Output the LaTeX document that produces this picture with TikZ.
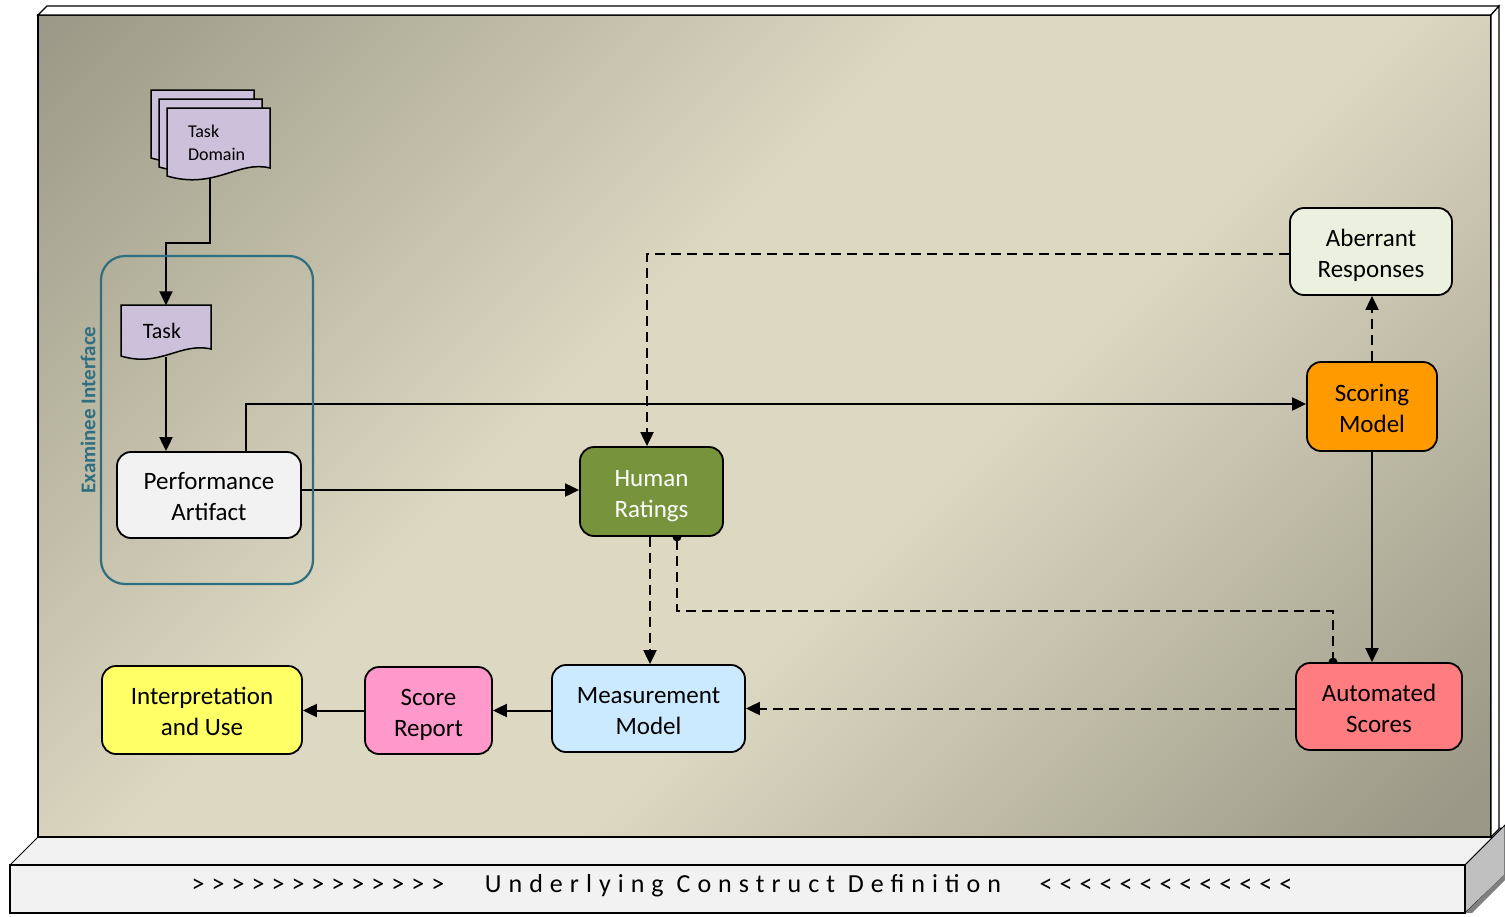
\documentclass[tikz,border=0pt]{standalone}
\usepackage{fontspec}
\setmainfont{Carlito}
\newfontfamily\spacedfont[LetterSpace=27]{Carlito}
\usetikzlibrary{arrows.meta,calc}
\newcommand\topstrut{\rule{0pt}{26pt}}
\newcommand\botstrut{\rule[-6pt]{0pt}{6pt}}
\definecolor{pgray}{HTML}{999785}
\definecolor{pbeige}{HTML}{DDD8C2}
\definecolor{plinthtop}{HTML}{F2F2F2}
\definecolor{plinthside}{HTML}{C0C0C0}
\definecolor{lav}{HTML}{CCC0DA}
\definecolor{teal}{HTML}{2F6F7F}
\definecolor{pafill}{HTML}{F2F2F2}
\definecolor{hrgreen}{HTML}{77933C}
\definecolor{abfill}{HTML}{EBF1DE}
\definecolor{smfill}{HTML}{FF9A00}
\definecolor{asfill}{HTML}{FF7C80}
\definecolor{mmfill}{HTML}{CCEAFF}
\definecolor{srfill}{HTML}{FF99CC}
\definecolor{iufill}{HTML}{FFFF66}
\pgfdeclarehorizontalshading{panelshade}{100bp}{color(0bp)=(pgray); color(14bp)=(pgray); color(43bp)=(pbeige); color(57bp)=(pbeige); color(84bp)=(pgray); color(100bp)=(pgray)}
\pgfdeclarelayer{bg}
\pgfdeclarelayer{conn}
\pgfdeclarelayer{shapes}
\pgfsetlayers{bg,conn,shapes,main}
\begin{document}
\begin{tikzpicture}[x=1pt,y=-1pt,
  box/.style={draw=black, line width=1.8pt, rounded corners=14pt, align=center,
    font=\fontsize{25}{31}\selectfont, inner sep=0pt},
  arr/.style={line width=2pt, -{Triangle[length=14pt,width=13pt]}},
  dsh/.style={dash pattern=on 10pt off 6pt},
  docshape/.style={fill=lav, draw=black, line width=1.5pt},
  bartext/.style={font=\spacedfont\fontsize{26}{30}\selectfont, inner sep=0pt}
]
\useasboundingbox (0,0) rectangle (1505,916);

% ---------------- frame ----------------
\begin{pgfonlayer}{bg}
  \filldraw[fill=plinthtop, line width=1pt] (10,865) -- (38,837) -- (1502,828) -- (1465,865) -- cycle;
  \filldraw[fill=plinthside, line width=1pt] (1465,865) -- (1505,825) -- (1505,875) -- (1465,913) -- cycle;
  \fill[black!50] (1465,913) -- (1505,874) -- (1505,880) -- (1472,913) -- cycle;
  \filldraw[fill=plinthtop, line width=2pt] (10,865) rectangle (1465,913);
  \shade[shading=panelshade, shading angle=-45] (38,15) rectangle (1491,837);
  \draw[line width=1.2pt] (38,15) rectangle (1491,837);
  \filldraw[fill=white, line width=1.2pt] (38,15) -- (47,6) -- (1499,6) -- (1491,15) -- cycle;
  \filldraw[fill=white, line width=1.2pt] (1491,15) -- (1499,6) -- (1499,829) -- (1491,837) -- cycle;
\end{pgfonlayer}

\node[bartext] (arl) at (318,886) {>>>>>>>>>>>>>};
\node[bartext] (ucd) at (743,886) {Underlying Construct Definition};
\node[bartext] (arr) at (1166,886) {<<<<<<<<<<<<<};

% ---------------- nodes ----------------
\node[draw=teal, line width=2.2pt, rounded corners=24pt, minimum width=212pt, minimum height=328pt] (ei) at (207,420) {};
\node[rotate=90, font=\bfseries\fontsize{21}{25}\selectfont, text=teal, inner sep=0pt] (eil) at (88,410) {Examinee Interface};

\node[minimum width=103pt, minimum height=68pt, inner xsep=21pt, inner ysep=0pt, text width=61pt, align=left,
  font=\fontsize{18}{23}\selectfont] (td) at (218.5,143) {Task\\Domain};
\node[minimum width=90pt, minimum height=51pt, inner sep=0pt, font=\fontsize{22}{26}\selectfont] (task) at (162,331) {Task};

\node[box, fill=pafill, minimum width=184pt, minimum height=86pt] (pa) at (209,495) {\topstrut Performance\\Artifact\botstrut};
\node[box, fill=hrgreen, text=white, minimum width=143pt, minimum height=89pt] (hr) at (651.5,491.5) {\topstrut Human\\Ratings\botstrut};
\node[box, fill=abfill, minimum width=162pt, minimum height=87pt] (ab) at (1371,251.5) {\topstrut Aberrant\\Responses\botstrut};
\node[box, fill=smfill, minimum width=130pt, minimum height=89pt] (sm) at (1372,406.5) {\topstrut Scoring\\Model\botstrut};
\node[box, fill=asfill, minimum width=166pt, minimum height=87pt] (as) at (1379,706.5) {\topstrut Automated\\Scores\botstrut};
\node[box, fill=mmfill, minimum width=193pt, minimum height=87pt] (mm) at (648.5,708.5) {\topstrut Measurement\\Model\botstrut};
\node[box, fill=srfill, minimum width=127pt, minimum height=87pt] (sr) at (428.5,710.5) {\topstrut Score\\Report\botstrut};
\node[box, fill=iufill, minimum width=200pt, minimum height=88pt] (iu) at (202,710) {\topstrut Interpretation\\and Use\botstrut};

% document shapes
\begin{pgfonlayer}{shapes}
  \filldraw[docshape] (151,90) -- (254,90) -- (254,150) .. controls (222,142) and (199,172) .. (151,158) -- cycle;
  \filldraw[docshape] (159,99) -- (262,99) -- (262,159) .. controls (230,151) and (207,181) .. (159,167) -- cycle;
  \filldraw[docshape] (167,108) -- (270,108) -- (270,168) .. controls (238,160) and (215,190) .. (167,176) -- cycle;
  \filldraw[docshape] (121,305) -- (211,305) -- (211,349) .. controls (180,342) and (160,368) .. (121,356) -- cycle;
\end{pgfonlayer}

% ---------------- connectors ----------------
\begin{pgfonlayer}{conn}
  \draw[arr] ([xshift=-8.5pt]td.south) |- ([xshift=4pt,yshift=62pt]task.north) -- ([xshift=4pt]task.north);
  \draw[arr] ([xshift=4pt]task.south) -- ([xshift=4pt]task.south |- pa.north);
  \draw[arr] ([xshift=37pt]pa.north) |- ([yshift=2.5pt]sm.west);
  \draw[arr] ([yshift=1.5pt]hr.west -| pa.east) -- ([yshift=1.5pt]hr.west);
  \draw[arr,dsh] ([yshift=-2.5pt]ab.west) -| ([xshift=-4.5pt]hr.north);
  \draw[arr,dsh] (sm.north) -- (sm.north |- ab.south);
  \draw[arr] (sm.south) -- (sm.south |- as.north);
  \draw[line width=2pt,dsh] ([xshift=-46pt]as.north) -- ++(0,-51) -| ([xshift=25.5pt]hr.south);
  \fill ([xshift=-46pt]as.north) circle (4.5pt);
  \fill ([xshift=25.5pt]hr.south) circle (4.5pt);
  \draw[arr,dsh] ([xshift=1.5pt]mm.north |- hr.south) -- ([xshift=1.5pt]mm.north);
  \draw[arr,dsh] (mm.east -| as.west) -- (mm.east);
  \draw[arr] (sr.east -| mm.west) -- (sr.east);
  \draw[arr] (sr.west) -- (sr.west -| iu.east);
\end{pgfonlayer}
\end{tikzpicture}
\end{document}
